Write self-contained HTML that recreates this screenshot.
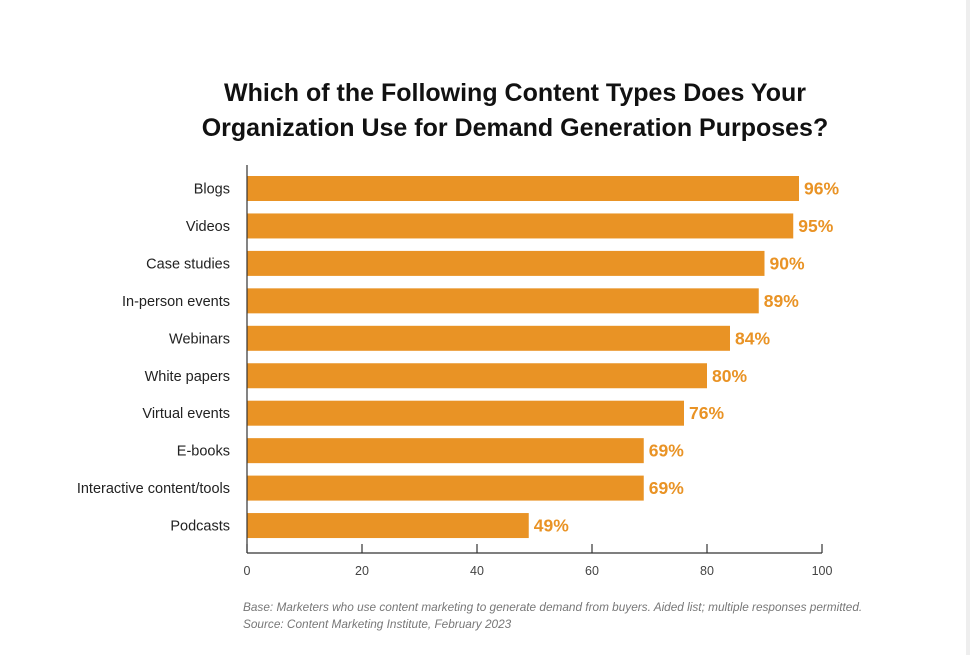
<!DOCTYPE html>
<html><head><meta charset="utf-8"><style>
body{margin:0;background:#fff;}
svg{display:block;font-family:"Liberation Sans",sans-serif;}
</style></head><body>
<svg id="chart" width="970" height="655">
<rect x="966" y="0" width="4" height="655" fill="#eee"/>
<text x="515" y="101" text-anchor="middle" font-size="25" font-weight="bold" fill="#111">Which of the Following Content Types Does Your</text>
<text x="515" y="136" text-anchor="middle" font-size="25" font-weight="bold" fill="#111">Organization Use for Demand Generation Purposes?</text>
<g id="plot"></g>
<text x="243" y="611" font-size="11.8" font-style="italic" fill="#777">Base: Marketers who use content marketing to generate demand from buyers. Aided list; multiple responses permitted.</text>
<text x="243" y="628" font-size="11.8" font-style="italic" fill="#777">Source: Content Marketing Institute, February 2023</text>
</svg>
<script>
const categories=["Blogs","Videos","Case studies","In-person events","Webinars","White papers","Virtual events","E-books","Interactive content/tools","Podcasts"];
const values=[96,95,90,89,84,80,76,69,69,49];
const ticks=[0,20,40,60,80,100];
const NS="http://www.w3.org/2000/svg";
const g=document.getElementById("plot");
const x0=247,unit=5.75,top0=176,pitch=37.45,bh=25,axisY=553;
const xs=v=>x0+v*unit;
function mk(t,a,txt){const e=document.createElementNS(NS,t);for(const k in a)e.setAttribute(k,a[k]);if(txt!=null)e.textContent=txt;g.appendChild(e);return e;}
categories.forEach((c,i)=>{
 const y=top0+i*pitch;
 const b=mk("rect",{x:x0,y:y,width:xs(values[i])-x0,height:bh,fill:"#e99325"});
 
 
 const l=mk("text",{x:230,y:y+bh/2+5,"text-anchor":"end","font-size":"14.5",fill:"#222"},c);
 
 
 const v=mk("text",{x:xs(values[i])+5,y:y+bh/2+6,"font-size":"17.5","font-weight":"bold",fill:"#e99325"},values[i]+"%");
 
 
});
const ya=mk("line",{x1:x0,y1:165,x2:x0,y2:axisY,stroke:"#333","stroke-width":1.2});


const xa=mk("line",{x1:x0,y1:axisY,x2:xs(100),y2:axisY,stroke:"#333","stroke-width":1.2});


ticks.forEach(t=>{
 const tk=mk("line",{x1:xs(t),y1:axisY-9,x2:xs(t),y2:axisY,stroke:"#333","stroke-width":1.2});
 
 
 const tl=mk("text",{x:xs(t),y:axisY+22,"text-anchor":"middle","font-size":"12.5",fill:"#444"},t);
 
 
});
</script>
</body></html>
